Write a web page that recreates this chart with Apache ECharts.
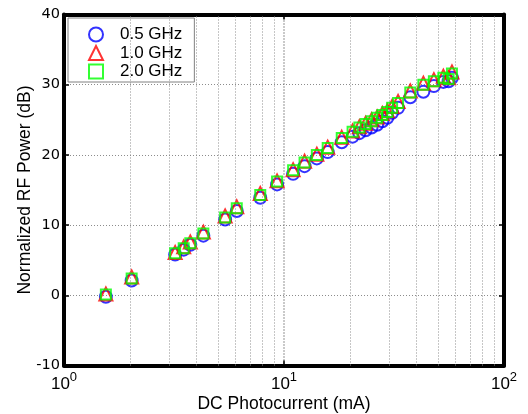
<!DOCTYPE html>
<html>
<head>
<meta charset="utf-8">
<script src="https://cdn.jsdelivr.net/npm/echarts@6/dist/echarts.min.js"></script>
<style>
    html, body { margin: 0; padding: 0; background: #fff; }
    #main { width: 528px; height: 414px; }
</style>
</head>
<body>
<div id="main"></div>
<script>
    // DC photocurrent (mA), shared by the three frequencies
    var current = [1.55, 2.03, 3.2, 3.5, 3.75, 4.3, 5.4, 6.1, 7.8, 9.3, 11.0, 12.4, 14.1, 15.8, 18.3,
                   20.5, 22.0, 23.5, 25, 26.5, 28, 29.5, 31, 33, 37.5, 43, 48, 53, 56, 58];
    // normalized RF power (dB)
    var power05 = [-0.2, 2.1, 5.8, 6.5, 7.2, 8.5, 10.8, 12.0, 13.9, 15.8, 17.3, 18.4, 19.5, 20.4, 21.8,
                   22.6, 23.1, 23.5, 23.9, 24.3, 24.8, 25.3, 26.0, 26.7, 28.2, 29.0, 29.8, 30.4, 30.5, 31.0];
    var power10 = [0.2, 2.6, 6.1, 6.9, 7.6, 9.0, 11.3, 12.6, 14.5, 16.3, 17.9, 19.1, 20.1, 21.1, 22.5,
                   23.4, 24.0, 24.5, 25.0, 25.4, 25.9, 26.3, 26.9, 27.6, 29.1, 30.2, 30.7, 31.2, 31.0, 31.8];
    var power20 = [0.1, 2.4, 6.0, 6.7, 7.4, 8.8, 11.1, 12.4, 14.3, 16.2, 17.8, 18.9, 20.0, 21.0, 22.4,
                   23.3, 23.9, 24.4, 24.8, 25.3, 25.7, 26.1, 26.7, 27.4, 28.9, 30.0, 30.5, 31.0, 30.8, 31.6];
    var names = ['0.5 GHz', '1.0 GHz', '2.0 GHz'];
    var yTicks = [-10, 0, 10, 20, 30, 40];
    // log minor grid positions
    var minorGrid = [2, 3, 4, 5, 6, 7, 8, 9, 20, 30, 40, 50, 60, 70, 80, 90];

    function pairs(ys) {
        return current.map(function (x, i) { return [x, ys[i]]; });
    }

    var font = 'Liberation Sans';
    var gridDot = { color: '#8c8c8c', type: [1, 2], width: 1 };
    var boxLine = { color: '#000', width: 4 };
    var tickIn = { show: true, inside: true, length: 5, lineStyle: { color: '#000', width: 1.5 } };

    var myChart = echarts.init(document.getElementById('main'));

    myChart.setOption({
        animation: false,
        textStyle: { fontFamily: font },
        grid: { left: 64, right: 24, top: 14.5, bottom: 48.5, containLabel: false, outerBoundsMode: 'none' },
        legend: {
            data: names,
            orient: 'vertical',
            left: 68,
            top: 18,
            padding: [8, 12, 2, 20],
            itemWidth: 14,
            itemHeight: 14,
            itemGap: 1.5,
            backgroundColor: '#fff',
            borderColor: '#808080',
            borderWidth: 1,
            borderRadius: 0,
            formatter: '{t|{name}}',
            textStyle: {
                color: '#000',
                rich: {
                    t: { fontSize: 17, color: '#000', fontFamily: font, lineHeight: 19, padding: [0, 0, 0, 12] }
                }
            }
        },
        xAxis: [{
            type: 'log',
            logBase: 10,
            min: 1,
            max: 100,
            name: 'DC Photocurrent (mA)',
            nameLocation: 'middle',
            nameGap: 30,
            nameMoveOverlap: false,
            nameTextStyle: { fontSize: 17.5, color: '#000', verticalAlign: 'top' },
            axisLine: { onZero: false, lineStyle: boxLine },
            axisTick: tickIn,
            splitLine: { show: true, lineStyle: { color: '#707070', type: [1, 2], width: 1.5 } },
            axisLabel: {
                margin: 5,
                formatter: function (v) {
                    return '{b|10}{s|' + Math.round(Math.log10(v)) + '}';
                },
                rich: {
                    b: { fontSize: 17, color: '#000', verticalAlign: 'bottom' },
                    s: { fontSize: 13, color: '#000', verticalAlign: 'bottom', padding: [0, 0, 9, 0] }
                }
            }
        }, {
            type: 'log',
            logBase: 10,
            min: 1,
            max: 100,
            position: 'top',
            axisLine: { onZero: false, lineStyle: boxLine },
            axisTick: tickIn,
            axisLabel: { show: false },
            splitLine: { show: false }
        }],
        yAxis: [{
            type: 'value',
            min: yTicks[0],
            max: yTicks[yTicks.length - 1],
            interval: 10,
            name: 'Normalized RF Power (dB)',
            nameLocation: 'middle',
            nameGap: 30,
            nameMoveOverlap: false,
            nameTextStyle: { fontSize: 17.5, color: '#000' },
            axisLine: { show: true, onZero: false, lineStyle: boxLine },
            axisTick: tickIn,
            axisLabel: { fontSize: 14.5, fontFamily: 'DejaVu Sans', color: '#000', margin: 4 },
            splitLine: { show: true, lineStyle: gridDot }
        }, {
            type: 'value',
            min: yTicks[0],
            max: yTicks[yTicks.length - 1],
            interval: 10,
            position: 'right',
            axisLine: { show: true, onZero: false, lineStyle: boxLine },
            axisTick: tickIn,
            axisLabel: { show: false },
            splitLine: { show: false }
        }],
        series: [{
            // minor log grid lines
            type: 'scatter',
            data: [],
            z: 1,
            silent: true,
            markLine: {
                silent: true,
                symbol: 'none',
                label: { show: false },
                lineStyle: gridDot,
                emphasis: { disabled: true },
                data: minorGrid.map(function (v) { return { xAxis: v }; })
            }
        }, {
            name: names[0],
            type: 'scatter',
            z: 3,
            symbol: 'circle',
            symbolSize: 12,
            itemStyle: { color: 'transparent', borderColor: '#0000ff', borderWidth: 2 },
            data: pairs(power05)
        }, {
            name: names[1],
            type: 'scatter',
            z: 4,
            symbol: 'triangle',
            symbolSize: 13,
            itemStyle: { color: 'transparent', borderColor: '#ff0000', borderWidth: 2 },
            data: pairs(power10)
        }, {
            name: names[2],
            type: 'scatter',
            z: 5,
            symbol: 'rect',
            symbolSize: 10,
            itemStyle: { color: 'transparent', borderColor: '#00ff00', borderWidth: 2 },
            data: pairs(power20)
        }]
    });
</script>
</body>
</html>
